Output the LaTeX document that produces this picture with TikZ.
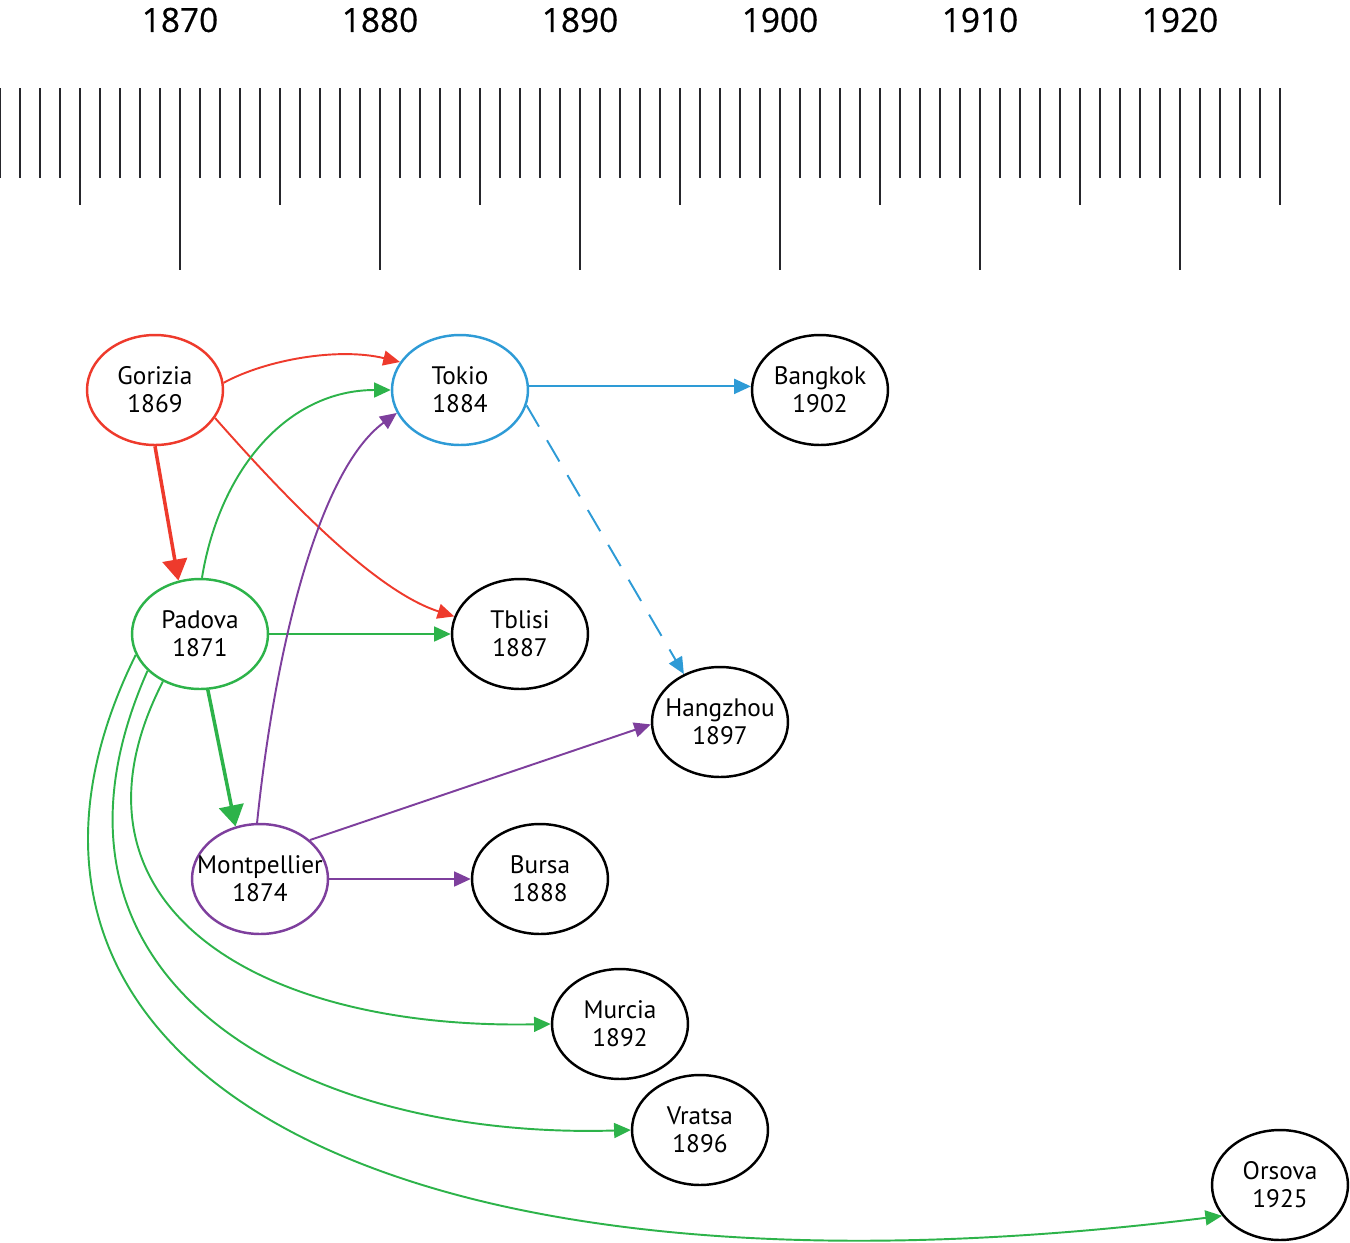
\documentclass[tikz,border=0pt]{standalone}
\usepackage{fontspec}
\newfontfamily\citysans{PT Sans}
\newfontfamily\yearsans[FakeBold=0.5]{Open Sans}
\usetikzlibrary{shapes.geometric,arrows.meta}
\definecolor{spred}{HTML}{EE3A2C}
\definecolor{spblue}{HTML}{2E9BD6}
\definecolor{spgreen}{HTML}{2DB34A}
\definecolor{sppurple}{HTML}{7E3F9D}
\definecolor{tickgray}{HTML}{26262B}

\begin{document}
\begin{tikzpicture}[x=0.02cm,y=0.02cm,
  city/.style={ellipse,draw,line width=1.4pt,minimum width=2.72cm,minimum height=2.2cm,
    inner sep=-10pt,align=center,font=\citysans\fontsize{14.4}{16}\selectfont},
  spread/.style={line width=1.1pt,-{Triangle[length=9.5pt,width=8.5pt]}},
  bigspread/.style={line width=2pt,-{Triangle[length=12pt,width=14pt]}}]

	\useasboundingbox (0,0) rectangle (1350,-1242);

	%Time Scale
	\foreach \yr in {1861,...,1925}{
		\pgfmathsetmacro\tickend{mod(\yr,10)==0 ? 270 : (mod(\yr,5)==0 ? 205 : 178)}
		\draw[line width=1.4pt,tickgray] ({180+20*(\yr-1870)},-88) -- ({180+20*(\yr-1870)},-\tickend);
	}
	\foreach \yr in {1870,1880,...,1920}
		\node[font=\yearsans\fontsize{19}{22}\selectfont] (lab\yr) at ({180+20*(\yr-1870)},-20) {\yr};

	%Cities
	\node[city,draw=spred] (gor) at (155,-390) {Gorizia\\1869};
	\node[city,draw=spblue] (tok) at (460,-390) {Tokio\\1884};
	\node[city] (ban) at (820,-390) {Bangkok\\1902};
	\node[city,draw=spgreen] (pad) at (200,-634) {Padova\\1871};
	\node[city] (tbl) at (520,-634) {Tblisi\\1887};
	\node[city] (han) at (720,-722) {Hangzhou\\1897};
	\node[city,draw=sppurple] (mon) at (260,-879) {Montpellier\\1874};
	\node[city] (bur) at (540,-879) {Bursa\\1888};
	\node[city] (mur) at (620,-1024) {Murcia\\1892};
	\node[city] (vra) at (700,-1130) {Vratsa\\1896};
	\node[city] (ors) at (1280,-1185) {Orsova\\1925};

	%From Gorizia
	\draw[spread,spred] (gor.6) .. controls +(42,23) and +(-62,15) .. (tok.155);
	\draw[bigspread,spred] (gor.south) -- (pad.112);
	\draw[spread,spred] (gor.-25) .. controls +(55,-62) and +(-85,27) .. (tbl.165);

	%From Tokio
	\draw[spread,spblue] (tok.3) -- (ban.177);
	\draw[spread,spblue,dash pattern=on 14pt off 9pt] (tok.-13) -- (han.127);

	%From Padova
	\draw[spread,spgreen] (pad.88) .. controls +(18,110) and +(-102,0) .. (tok.west);
	\draw[spread,spgreen] (pad.east) -- (tbl.west);
	\draw[bigspread,spgreen] (pad.-82) -- (mon.115);
	\draw[spread,spgreen] (pad.232) .. controls +(-112,-218) and +(-302,-6) .. (mur.west);
	\draw[spread,spgreen] (pad.215) .. controls +(-137,-309) and +(-332,-10) .. (vra.west);
	\draw[spread,spgreen] (pad.198) .. controls +(-195,-395) and +(-870,-108) .. (ors.208);

	%From Montpellier
	\draw[spread,sppurple] (mon.93) .. controls +(18,175) and +(-78,-57) .. (tok.200);
	\draw[spread,sppurple] (mon.38) -- (han.182);
	\draw[spread,sppurple] (mon.east) -- (bur.west);

\end{tikzpicture}
\end{document}
